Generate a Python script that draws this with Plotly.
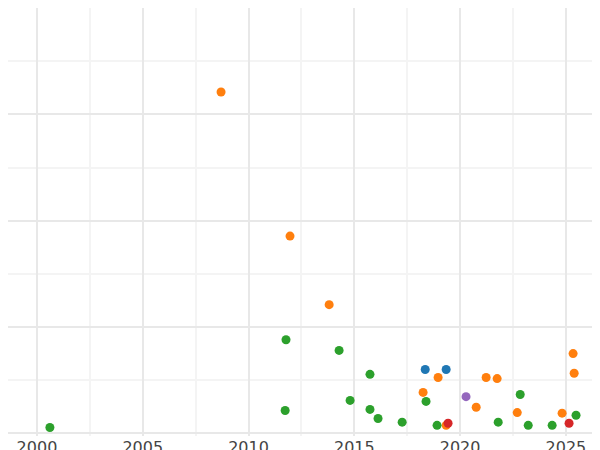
import plotly.graph_objects as go

orange_x = [2008.70, 2011.96, 2013.81, 2018.25, 2018.96, 2021.23, 2021.75, 2020.76, 2022.70, 2024.82, 2025.34, 2025.39, 2019.34]
orange_y = [6.42, 3.71, 2.42, 0.77, 1.05, 1.05, 1.03, 0.49, 0.39, 0.38, 1.50, 1.13, 0.15]
blue_x = [2018.35, 2019.34]
blue_y = [1.20, 1.20]
green_x = [2000.61, 2011.77, 2011.73, 2014.28, 2014.80, 2015.74, 2015.74, 2016.12, 2017.26, 2018.39, 2018.91, 2021.80, 2022.84, 2023.22, 2024.35, 2025.48]
green_y = [0.11, 1.76, 0.43, 1.56, 0.62, 1.11, 0.45, 0.28, 0.21, 0.60, 0.15, 0.21, 0.73, 0.15, 0.15, 0.34]
red_x = [2019.43, 2025.15]
red_y = [0.19, 0.19]
purple_x = [2020.28]
purple_y = [0.69]

fig = go.Figure()
for xs, ys, c in [(blue_x, blue_y, "#1f77b4"), (orange_x, orange_y, "#ff7f0e"),
                  (green_x, green_y, "#2ca02c"), (red_x, red_y, "#d62728"),
                  (purple_x, purple_y, "#9467bd")]:
    fig.add_trace(go.Scatter(x=xs, y=ys, mode="markers",
                             marker=dict(color=c, size=9), showlegend=False,
                             cliponaxis=False))

fig.update_layout(
    width=600, height=450, template="plotly_white",
    margin=dict(l=0, r=0, t=0, b=22, autoexpand=False),
    plot_bgcolor="white", paper_bgcolor="white",
    xaxis=dict(range=[1998.63, 2026.99], dtick=5, tick0=2000, showgrid=True,
               gridcolor="#e8e8e8", gridwidth=1.5, zeroline=False,
               ticklen=0, automargin=False,
               minor=dict(dtick=2.5, showgrid=True, gridcolor="#f4f4f4"),
               tickfont=dict(size=16, color="#444", family="DejaVu Sans")),
    yaxis=dict(range=[-0.05, 8.0], dtick=2, tick0=0, showticklabels=False,
               automargin=False,
               showgrid=True, gridcolor="#e8e8e8", gridwidth=1.5, zeroline=False,
               minor=dict(dtick=1, showgrid=True, gridcolor="#f4f4f4")),
)
fig.write_html("out.html")
